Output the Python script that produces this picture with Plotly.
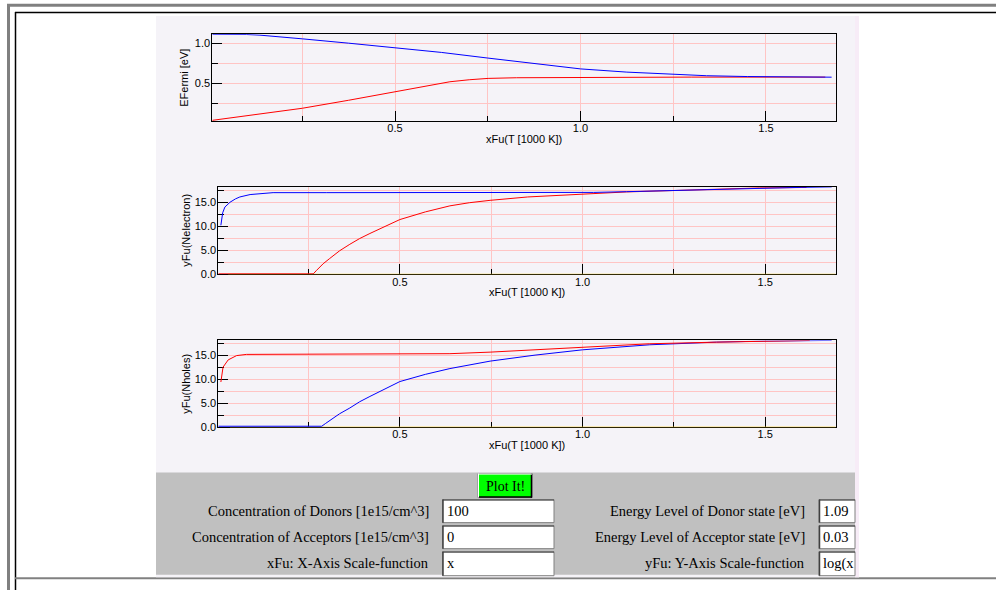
import plotly.graph_objects as go

# ---------------- data ----------------
# Plot 1: Fermi energies [eV] vs T [1000 K]
ef_blue_x = [0.0075, 0.05, 0.10, 0.136, 0.2, 0.25, 0.375, 0.5, 0.625, 0.75, 0.875, 1.0, 1.125, 1.25, 1.34, 1.45, 1.55, 1.677]
ef_blue_y = [1.11, 1.11, 1.108, 1.10, 1.078, 1.054, 1.0, 0.945, 0.885, 0.815, 0.745, 0.68, 0.64, 0.612, 0.595, 0.585, 0.58, 0.577]
ef_red_x = [0.0075, 0.1, 0.25, 0.375, 0.5, 0.575, 0.648, 0.70, 0.751, 0.828, 1.0, 1.3, 1.66]
ef_red_y = [0.04, 0.095, 0.19, 0.29, 0.395, 0.46, 0.52, 0.545, 0.562, 0.57, 0.575, 0.578, 0.578]

# Plot 2: log(N electrons)
ne_blue_x = [0.01, 0.015, 0.021, 0.035, 0.05, 0.062, 0.09, 0.12, 0.153, 0.3, 0.6, 0.9, 1.03, 1.12, 1.2, 1.3, 1.4, 1.5, 1.6, 1.682]
ne_blue_y = [10.2, 12.8, 14.0, 15.0, 15.7, 16.1, 16.6, 16.85, 17.0, 17.0, 17.0, 17.0, 17.05, 17.2, 17.37, 17.55, 17.75, 17.95, 18.1, 18.2]
ne_red_x = [0.003, 0.263, 0.272, 0.29, 0.308, 0.335, 0.363, 0.39, 0.418, 0.46, 0.5, 0.57, 0.637, 0.69, 0.747, 0.85, 1.0, 1.12, 1.275, 1.485, 1.613]
ne_red_y = [0.1, 0.1, 0.83, 2.2, 3.3, 4.9, 6.25, 7.45, 8.5, 10.0, 11.4, 13.0, 14.25, 14.9, 15.4, 16.1, 16.7, 17.15, 17.5, 17.98, 18.08]
ne_yel_x = [0.03, 1.693]
ne_yel_y = [0.0, 0.0]

# Plot 3: log(N holes)
nh_red_x = [0.01, 0.016, 0.03, 0.053, 0.08, 0.3, 0.5, 0.637, 0.747, 0.87, 1.0, 1.184, 1.367, 1.494, 1.622]
nh_red_y = [9.4, 12.5, 14.0, 14.9, 15.15, 15.2, 15.2, 15.3, 15.62, 16.1, 16.7, 17.36, 17.7, 17.9, 18.05]
nh_blue_x = [0.003, 0.286, 0.297, 0.308, 0.335, 0.363, 0.39, 0.418, 0.46, 0.5, 0.57, 0.637, 0.747, 0.87, 1.0, 1.184, 1.367, 1.5, 1.682]
nh_blue_y = [0.2, 0.2, 0.8, 1.4, 2.8, 4.0, 5.3, 6.4, 8.0, 9.5, 11.0, 12.2, 13.75, 15.0, 16.1, 17.15, 17.7, 17.92, 18.06]
nh_yel_x = [0.035, 1.693]
nh_yel_y = [0.0, 0.0]

x_title = "xFu(T [1000 K])"
y_titles = ["EFermi [eV]", "yFu(Nelectron)", "yFu(Nholes)"]

form_left = [("Concentration of Donors [1e15/cm^3]", "100"),
             ("Concentration of Acceptors [1e15/cm^3]", "0"),
             ("xFu: X-Axis Scale-function", "x")]
form_right = [("Energy Level of Donor state [eV]", "1.09"),
              ("Energy Level of Acceptor state [eV]", "0.03"),
              ("yFu: Y-Axis Scale-function", "log(x")]

# ---------------- layout helpers ----------------
W, H = 996, 590
HD = 583.3  # effective drawn height observed in the rendered page
def px(x):
    return x / W
def py(y):
    return 1 - y / HD

GRID = "#ffc4c4"
SANS = "Liberation Sans, Arial, sans-serif"
TICKFONT = dict(family=SANS, size=11, color="black")
BLUE = "#0000ff"
RED = "#ff0000"
YEL = "#ffd21a"

fig = go.Figure()

def line(xs, ys, color, ax):
    fig.add_trace(go.Scatter(x=xs, y=ys, mode="lines", line=dict(color=color, width=1),
                             xaxis="x" + ax, yaxis="y" + ax, showlegend=False, hoverinfo="skip"))

line(ef_red_x, ef_red_y, RED, "")
line(ef_blue_x, ef_blue_y, BLUE, "")
line(ne_yel_x, ne_yel_y, YEL, "2")
line(ne_red_x, ne_red_y, RED, "2")
line(ne_blue_x, ne_blue_y, BLUE, "2")
line(nh_yel_x, nh_yel_y, YEL, "3")
line(nh_blue_x, nh_blue_y, BLUE, "3")
line(nh_red_x, nh_red_y, RED, "3")

# plot-area pixel boxes (left, right, top, bottom)
boxes = [(212.3, 835.7, 34.3, 121.0), (218.3, 835.7, 186.7, 274.0), (218.3, 835.7, 340.0, 426.7)]
xranges = [[0.0075, 1.688], [0.003, 1.693], [0.003, 1.693]]
yranges = [[0.03, 1.11], [0.0, 18.19], [0.0, 18.06]]
ydt = [(0.5, 0.25), (5, 2.5), (5, 2.5)]

def axis_common():
    return dict(showline=True, linecolor="black", linewidth=1, mirror=True,
                ticks="inside", ticklen=10, tickwidth=1, tickcolor="black",
                showgrid=True, gridcolor=GRID, gridwidth=1, zeroline=False,
                tickfont=TICKFONT, tickformat=".1f", fixedrange=True)

layout_axes = {}
for i, (l, r, t, b) in enumerate(boxes):
    sfx = "" if i == 0 else str(i + 1)
    xa = axis_common()
    xa.update(domain=[px(l), px(r)], range=xranges[i], anchor="y" + sfx,
              tick0=0, dtick=0.5, ticklabelstandoff=-3,
              minor=dict(tick0=0, dtick=0.25, ticks="inside", ticklen=5, tickcolor="black",
                         showgrid=True, gridcolor=GRID, gridwidth=1))
    ya = axis_common()
    ya.update(domain=[py(b), py(t)], range=yranges[i], anchor="x" + sfx,
              tick0=0, dtick=ydt[i][0], ticklabelstandoff=-1,
              minor=dict(tick0=0, dtick=ydt[i][1], ticks="inside", ticklen=6, tickcolor="black",
                         showgrid=True, gridcolor=GRID, gridwidth=1))
    if i > 0:
        xa["layer"] = "below traces"
        ya["layer"] = "below traces"
    layout_axes["xaxis" + sfx] = xa
    layout_axes["yaxis" + sfx] = ya

shapes = []
def rect(x0, y0, x1, y1, fill, lc=None, lw=0, layer="below"):
    shapes.append(dict(type="rect", xref="paper", yref="paper",
                       x0=px(x0), x1=px(x1), y0=py(y1), y1=py(y0),
                       fillcolor=fill, line=dict(color=lc or fill, width=lw), layer=layer))
def hline(x0, x1, y, color, w=1):
    shapes.append(dict(type="line", xref="paper", yref="paper", x0=px(x0), x1=px(x1),
                       y0=py(y), y1=py(y), line=dict(color=color, width=w), layer="below"))
def vline(x, y0, y1, color, w=1):
    shapes.append(dict(type="line", xref="paper", yref="paper", x0=px(x), x1=px(x),
                       y0=py(y0), y1=py(y1), line=dict(color=color, width=w), layer="below"))

# page frame
hline(7, 996, 5.3, "#808080", 3)
vline(8.5, 4, 600, "#808080", 3)
hline(15, 996, 12.5, "black", 1.5)
vline(15.5, 12, 600, "black", 1.5)
hline(15, 996, 577.5, "#808080", 2)

# applet panels
rect(156, 16, 859, 576.5, "#f5f3f8")
rect(855, 16, 859, 576.5, "#f7ecf7")
rect(156, 472, 855, 574, "#c0c0c0")

# button
rect(478, 473, 532, 497, "#00ff00", "#808080", 1)
hline(478, 532, 496.5, "black", 1.5)
vline(531.5, 473, 497, "black", 1.5)
hline(478, 532, 473.5, "white", 1)
vline(478.5, 473, 497, "white", 1)

annotations = []
SERIF = "Liberation Serif, Times New Roman, serif"
FS = 14.5
annotations.append(dict(text="Plot It!", x=px(505), y=py(485.5), xref="paper", yref="paper",
                        showarrow=False, xanchor="center", yanchor="middle",
                        font=dict(family=SERIF, size=14, color="black")))

rows_y = [510.5, 536.5, 562.5]
boxes_y = [(499, 522), (525, 548), (551, 575)]
for j, ((lab, val), (y0, y1)) in enumerate(zip(form_left, boxes_y)):
    rect(442.5, y0, 554, y1, "white", "#808080", 1)
    hline(442.5, 554, y0 + 0.5, "#404040", 1)
    vline(443, y0, y1, "#404040", 1.5)
    annotations.append(dict(text=lab, x=px(431), y=py(rows_y[j]), xref="paper", yref="paper",
                            showarrow=False, xanchor="right", yanchor="middle",
                            font=dict(family=SERIF, size=FS, color="black")))
    annotations.append(dict(text=val, x=px(444.5), y=py(rows_y[j]), xref="paper", yref="paper",
                            showarrow=False, xanchor="left", yanchor="middle",
                            font=dict(family=SERIF, size=FS, color="black")))
for j, ((lab, val), (y0, y1)) in enumerate(zip(form_right, boxes_y)):
    rect(819, y0, 855, y1, "white", "#808080", 1)
    hline(819, 855, y0 + 0.5, "#404040", 1)
    vline(819.5, y0, y1, "#404040", 1.5)
    annotations.append(dict(text=lab, x=px(807), y=py(rows_y[j]), xref="paper", yref="paper",
                            showarrow=False, xanchor="right", yanchor="middle",
                            font=dict(family=SERIF, size=FS, color="black")))
    annotations.append(dict(text=val, x=px(820.5), y=py(rows_y[j]), xref="paper", yref="paper",
                            showarrow=False, xanchor="left", yanchor="middle",
                            font=dict(family=SERIF, size=FS, color="black")))

# axis titles
for i, (l, r, t, b) in enumerate(boxes):
    annotations.append(dict(text=x_title, x=px((l + r) / 2), y=py(b + 17.5), xref="paper", yref="paper",
                            showarrow=False, xanchor="center", yanchor="middle",
                            font=dict(family=SANS, size=11, color="black")))
    annotations.append(dict(text=y_titles[i], x=px(184 if i == 0 else 186), y=py((t + b) / 2),
                            xref="paper", yref="paper", textangle=-90,
                            showarrow=False, xanchor="center", yanchor="middle",
                            font=dict(family=SANS, size=11, color="black")))

fig.update_layout(width=W, height=H, margin=dict(l=0, r=0, t=0, b=0),
                  paper_bgcolor="white", plot_bgcolor="white",
                  shapes=shapes, annotations=annotations, showlegend=False,
                  **layout_axes)

fig.write_html("out.html", config={"displayModeBar": False},
               post_script="document.body.style.margin='0px';document.body.style.overflow='hidden';")
